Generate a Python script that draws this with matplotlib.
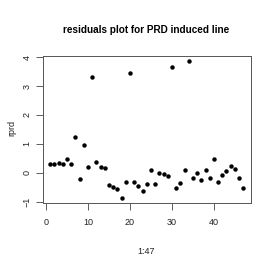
import matplotlib

matplotlib.use("Agg")
import matplotlib.pyplot as plt

plt.rcParams["font.family"] = ["Liberation Sans", "DejaVu Sans"]

# residuals, index 1..47
idx = list(range(1, 48))
rprd = [0.31, 0.29, 0.32, 0.29, 0.47, 0.29, 1.22, -0.21, 0.96, 0.21,
        3.30, 0.37, 0.21, 0.15, -0.43, -0.48, -0.58, -0.86, -0.33, 3.45,
        -0.31, -0.47, -0.63, -0.40, 0.08, -0.39, -0.02, -0.03, -0.10, 3.65,
        -0.52, -0.35, 0.08, 3.85, -0.17, -0.01, -0.26, 0.09, -0.18, 0.49,
        -0.32, -0.08, 0.07, 0.22, 0.14, -0.17, -0.54]
xticks = [0, 10, 20, 30, 40]
yticks = [-1, 0, 1, 2, 3, 4]

W = 273
fig = plt.figure(figsize=(2.73, 2.73), dpi=100)
fig.patch.set_facecolor("white")
ax = fig.add_axes([42.5 / W, 70 / W, 208.5 / W, 147 / W])

ax.plot(idx, rprd, "o", color="black", markersize=3.2, markeredgewidth=0)

# R-style 4% padding
xr = max(idx) - min(idx)
yr = max(rprd) - min(rprd)
ax.set_xlim(min(idx) - 0.04 * xr, max(idx) + 0.04 * xr)
ax.set_ylim(min(rprd) - 0.04 * yr, max(rprd) + 0.04 * yr)

ax.set_xticks(xticks)
ax.set_yticks(yticks)
ax.tick_params(direction="out", length=5, width=0.6, color="#444444",
               labelsize=6.5, labelcolor="#222222")
ax.tick_params(axis="x", pad=5.5)
ax.tick_params(axis="y", pad=2.7)
for lab in ax.get_yticklabels():
    lab.set_rotation(90)
    lab.set_va("center")
for spine in ax.spines.values():
    spine.set_color("#555555")
    spine.set_linewidth(0.7)

fig.text(146 / W, 1 - 251 / W, "1:47", ha="center", va="center",
         fontsize=6.5, color="#222222")
fig.text(12.3 / W, 1 - 128 / W, "rprd", ha="center", va="center",
         rotation=90, fontsize=6.5, color="#222222")
fig.text(146.5 / W, 1 - 29.5 / W, "residuals plot for PRD induced line",
         ha="center", va="center", fontsize=7.2, fontweight="bold")

fig.savefig("out.png", dpi=100, facecolor="white")
